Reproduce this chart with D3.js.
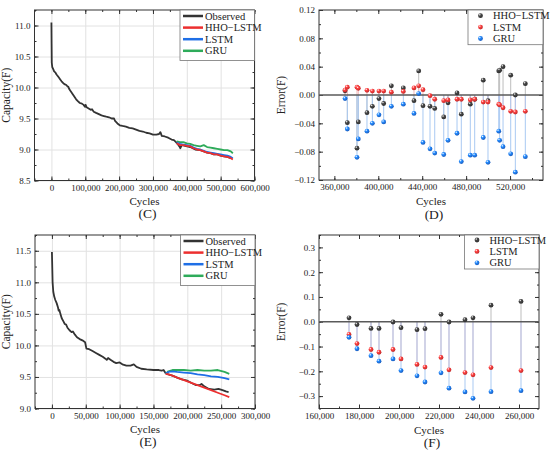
<!DOCTYPE html>
<html>
<head>
<meta charset="utf-8">
<script src="https://cdn.jsdelivr.net/npm/d3@7"></script>
<style>
  body { margin: 0; background: #fff; }
  svg { display: block; }
  text { font-family: "Liberation Serif", "Times New Roman", serif; fill: #222; }
</style>
</head>
<body>
<svg id="chart" width="550" height="453"></svg>
<script>
// ---- panel C: capacity curve ----
const obsC_cycles = [0, 500, 1000, 2500, 5000, 8000, 12000, 15000, 18000, 22000, 26000, 30000, 35000, 40000, 44000, 47000, 50000, 53000, 58000, 63000, 68000, 73000, 78000, 84000, 90000, 95000, 99000, 101000, 104000, 110000, 116000, 120000, 125000, 132000, 140000, 148000, 155000, 162000, 170000, 178000, 185000, 188000, 195000, 202000, 210000, 220000, 230000, 240000, 250000, 260000, 270000, 280000, 290000, 300000, 310000, 318000, 322000, 326000, 335000, 345000, 355000, 362000, 368000, 374000, 378000, 381000, 385000, 395000, 410000, 425000, 440000, 450000, 460000, 470000, 480000, 490000, 500000, 510000, 520000, 530000];
const obsC_cap = [11.05, 10.70, 10.40, 10.33, 10.30, 10.26, 10.24, 10.21, 10.19, 10.16, 10.13, 10.10, 10.07, 10.05, 10.04, 10.02, 10.01, 9.97, 9.93, 9.89, 9.85, 9.81, 9.78, 9.75, 9.74, 9.72, 9.69, 9.72, 9.68, 9.66, 9.64, 9.65, 9.61, 9.59, 9.57, 9.55, 9.54, 9.53, 9.52, 9.50, 9.50, 9.46, 9.42, 9.39, 9.38, 9.37, 9.35, 9.34, 9.32, 9.30, 9.29, 9.27, 9.26, 9.24, 9.24, 9.25, 9.28, 9.22, 9.21, 9.19, 9.16, 9.15, 9.12, 9.08, 9.05, 9.02, 9.07, 9.06, 9.04, 9.00, 8.99, 8.97, 8.95, 8.94, 8.92, 8.92, 8.90, 8.89, 8.88, 8.86];
const predC_cycles = [370000, 380000, 390000, 400000, 410000, 420000, 430000, 440000, 450000, 460000, 470000, 480000, 490000, 500000, 510000, 520000, 530000, 536000];
const predC_hho  = [9.10, 9.07, 9.07, 9.06, 9.05, 9.02, 9.00, 8.99, 8.97, 8.95, 8.94, 8.92, 8.92, 8.90, 8.89, 8.88, 8.86, 8.84];
const predC_lstm = [9.11, 9.09, 9.08, 9.07, 9.06, 9.03, 9.01, 9.00, 8.98, 8.96, 8.95, 8.94, 8.93, 8.92, 8.91, 8.90, 8.88, 8.86];
const predC_gru  = [9.13, 9.12, 9.12, 9.10, 9.09, 9.07, 9.06, 9.05, 9.07, 9.04, 9.03, 9.02, 9.01, 9.00, 8.99, 8.99, 8.97, 8.94];

// ---- panel D: prediction errors ----
const errD_cycles = [369700, 371800, 380600, 381800, 389700, 394600, 400600, 404900, 411900, 422800, 432500, 436800, 440700, 447100, 451400, 459600, 463500, 471700, 475600, 483800, 487800, 495600, 499900, 509700, 510500, 513600, 520600, 524800, 533900];
const errD_hho  = [0.006, -0.039, -0.075, -0.038, -0.025, -0.016, -0.005, -0.012, 0.013, 0.010, -0.008, 0.034, -0.015, -0.016, -0.019, -0.031, -0.011, 0.003, -0.027, -0.013, -0.006, 0.021, -0.008, 0.034, 0.035, 0.040, 0.028, 0.000, 0.016];
const errD_lstm = [0.007, 0.011, 0.011, 0.0095, 0.0066, 0.0056, 0.0056, 0.0056, 0.004, 0.005, 0.010, 0.013, 0.0075, -0.001, -0.006, -0.008, -0.007, -0.006, -0.006, -0.007, -0.006, -0.010, -0.010, -0.013, -0.014, -0.018, -0.023, -0.024, -0.023];
const errD_gru  = [-0.005, -0.048, -0.088, -0.062, -0.051, -0.040, -0.028, -0.038, -0.016, -0.013, -0.026, 0.002, -0.067, -0.076, -0.082, -0.084, -0.064, -0.054, -0.094, -0.085, -0.085, -0.060, -0.095, -0.051, -0.064, -0.073, -0.083, -0.109, -0.087];

// ---- panel E: capacity curve ----
const obsE_cycles = [0, 1000, 2000, 3500, 5000, 7000, 9000, 10000, 11000, 12500, 14500, 17000, 19000, 21000, 23000, 26000, 29000, 31000, 34000, 37000, 41000, 45000, 49000, 51000, 55000, 60000, 65000, 70000, 75000, 79000, 81000, 83000, 87000, 91000, 95000, 100000, 104000, 110000, 116000, 121000, 125000, 132000, 140000, 150000, 158000, 162000, 165000, 168000, 172000, 178000, 185000, 192000, 200000, 207000, 213000, 218000, 221000, 225000, 232000, 240000, 246000, 252000, 257000, 261000];
const obsE_cap = [11.48, 11.00, 10.85, 10.77, 10.72, 10.67, 10.60, 10.55, 10.56, 10.50, 10.43, 10.38, 10.34, 10.33, 10.28, 10.24, 10.21, 10.22, 10.17, 10.13, 10.10, 10.08, 10.05, 9.95, 9.94, 9.91, 9.88, 9.85, 9.82, 9.79, 9.77, 9.80, 9.77, 9.74, 9.72, 9.73, 9.70, 9.68, 9.68, 9.70, 9.66, 9.63, 9.62, 9.61, 9.61, 9.60, 9.61, 9.56, 9.54, 9.52, 9.49, 9.46, 9.44, 9.40, 9.37, 9.37, 9.39, 9.35, 9.31, 9.30, 9.31, 9.29, 9.27, 9.26];
const predE_cycles = [168000, 172000, 178000, 185000, 195000, 205000, 215000, 225000, 235000, 245000, 255000, 262000];
const predE_hho  = [9.55, 9.54, 9.52, 9.49, 9.45, 9.41, 9.37, 9.33, 9.29, 9.25, 9.21, 9.18];
const predE_lstm = [9.55, 9.58, 9.59, 9.58, 9.57, 9.56, 9.54, 9.53, 9.51, 9.50, 9.48, 9.46];
const predE_gru  = [9.55, 9.59, 9.61, 9.61, 9.61, 9.60, 9.61, 9.60, 9.60, 9.61, 9.58, 9.55];

// ---- panel F: prediction errors ----
const errF_cycles = [175000, 179000, 186000, 190000, 197000, 201000, 209000, 213000, 221000, 225000, 233000, 237000, 246000, 261000];
const errF_hho  = [0.016, -0.011, -0.027, -0.027, -0.001, -0.024, -0.032, -0.028, 0.030, -0.001, 0.008, 0.016, 0.067, 0.082];
const errF_lstm = [-0.051, -0.088, -0.112, -0.123, -0.112, -0.150, -0.172, -0.183, -0.144, -0.194, -0.205, -0.214, -0.185, -0.197];
const errF_gru  = [-0.063, -0.109, -0.137, -0.159, -0.150, -0.197, -0.218, -0.243, -0.206, -0.268, -0.283, -0.309, -0.282, -0.278];

const lineNames = ['Observed', 'HHO\u2212LSTM', 'LSTM', 'GRU'];
const lineColors = ['#333333', '#ec2f2f', '#1f6fe6', '#2eab5a'];
const errNames = ['HHO\u2212LSTM', 'LSTM', 'GRU'];
const errColors = ['#3a3a3a', '#f03535', '#1f72ec'];
const dropColors = ['#bdbdbd', '#f3b9b9', '#a9c9f2'];

const svg = d3.select('#chart');

// sphere look for the error markers
const defs = svg.append('defs');
errColors.forEach((c, i) => {
  const g = defs.append('radialGradient')
    .attr('id', `sphere${i}`)
    .attr('cx', '35%').attr('cy', '30%').attr('r', '70%');
  g.append('stop').attr('offset', '0%').attr('stop-color', '#ffffff');
  g.append('stop').attr('offset', '35%').attr('stop-color', d3.color(c).brighter(0.6));
  g.append('stop').attr('offset', '100%').attr('stop-color', d3.color(c).darker(0.6));
});

// Origin-like frame: inward ticks on all four sides
function drawAxes(g, x, y, o) {
  const [x0, x1] = x.range();
  const [y0, y1] = y.range(); // y0 bottom, y1 top

  if (o.grid) {
    g.append('g')
      .attr('transform', `translate(0,${y0})`)
      .call(d3.axisBottom(x).tickValues(o.xTicks).tickSize(-(y0 - y1)).tickFormat(''))
      .call(a => a.select('.domain').remove())
      .call(a => a.selectAll('line').attr('stroke', '#e2e2e2'));
    g.append('g')
      .attr('transform', `translate(${x0},0)`)
      .call(d3.axisLeft(y).tickValues(o.yTicks).tickSize(-(x1 - x0)).tickFormat(''))
      .call(a => a.select('.domain').remove())
      .call(a => a.selectAll('line').attr('stroke', '#e2e2e2'));
  }

  const axes = [
    [d3.axisBottom, `translate(0,${y0})`, x, o.xTicks, o.xMinor, o.xFmt],
    [d3.axisTop, `translate(0,${y1})`, x, o.xTicks, o.xMinor, null],
    [d3.axisLeft, `translate(${x0},0)`, y, o.yTicks, o.yMinor, o.yFmt],
    [d3.axisRight, `translate(${x1},0)`, y, o.yTicks, o.yMinor, null],
  ];
  axes.forEach(([fn, tr, sc, major, minor, fmt]) => {
    g.append('g').attr('transform', tr)
      .call(fn(sc).tickValues(minor).tickSize(-2).tickFormat(''))
      .call(a => a.select('.domain').remove())
      .call(a => a.selectAll('line').attr('stroke', '#333'));
    const ax = g.append('g').attr('transform', tr)
      .call(fn(sc).tickValues(major).tickSize(-4).tickPadding(fmt ? 4 : 0).tickFormat(fmt || ''))
      .call(a => a.select('.domain').remove())
      .call(a => a.selectAll('line').attr('stroke', '#333'));
    ax.selectAll('text')
      .attr('font-family', '"Liberation Serif", serif')
      .attr('font-size', 9)
      .attr('fill', '#222');
  });

  g.append('rect')
    .attr('x', x0).attr('y', y1)
    .attr('width', x1 - x0).attr('height', y0 - y1)
    .attr('fill', 'none').attr('stroke', '#333').attr('stroke-width', 1);
}

function titles(g, x, y, yTitle, yTitleX, xTitleY, tag) {
  const [x0, x1] = x.range();
  const [y0, y1] = y.range();
  const cy = (y0 + y1) / 2;
  g.append('text')
    .attr('transform', `translate(${yTitleX},${cy}) rotate(-90)`)
    .attr('text-anchor', 'middle')
    .attr('font-size', 11.5)
    .text(yTitle);
  const cx = (x0 + x1) / 2;
  g.append('text')
    .attr('x', cx).attr('y', xTitleY)
    .attr('text-anchor', 'middle')
    .attr('font-size', 11)
    .text('Cycles');
  g.append('text')
    .attr('x', cx + 3).attr('y', xTitleY + 13.5)
    .attr('text-anchor', 'middle')
    .attr('font-size', 13.5)
    .text(tag);
}

function linePanel(o) {
  const g = svg.append('g');
  const x = d3.scaleLinear().domain(o.xDomain).range([o.left, o.right]);
  const y = d3.scaleLinear().domain(o.yDomain).range([o.bottom, o.top]);

  drawAxes(g, x, y, {
    grid: true,
    xTicks: d3.range(o.xDomain[0] < 0 ? 0 : o.xDomain[0], o.xDomain[1] + 1, o.xStep),
    xMinor: d3.range(o.xDomain[0], o.xDomain[1] + 1, o.xStep / 2),
    yTicks: d3.range(o.yDomain[0], o.yDomain[1] + 1e-9, 0.5),
    yMinor: d3.range(o.yDomain[0], o.yDomain[1] + 1e-9, 0.25),
    xFmt: d3.format(','),
    yFmt: d3.format('.1f'),
  });

  const line = d3.line().x(d => x(d[0])).y(d => y(d[1]));
  const series = [
    d3.zip(o.obsX, o.obsY),
    d3.zip(o.predX, o.hho),
    d3.zip(o.predX, o.lstm),
    d3.zip(o.predX, o.gru),
  ];
  // observed first, then GRU, LSTM, HHO-LSTM on top
  [0, 3, 2, 1].forEach(i => {
    g.append('path')
      .datum(series[i])
      .attr('d', line)
      .attr('fill', 'none')
      .attr('stroke', lineColors[i])
      .attr('stroke-width', 1.8)
      .attr('stroke-linejoin', 'round');
  });

  // legend
  const lx = o.legend[0], ly = o.legend[1];
  g.append('rect')
    .attr('x', lx).attr('y', o.top)
    .attr('width', o.right - lx).attr('height', ly + 50.5 - o.top - 6)
    .attr('fill', '#fff').attr('stroke', '#777').attr('stroke-width', 0.8);
  lineNames.forEach((name, i) => {
    const ry = ly + i * 11.6;
    g.append('line')
      .attr('x1', lx + 3).attr('x2', lx + 23)
      .attr('y1', ry).attr('y2', ry)
      .attr('stroke', lineColors[i]).attr('stroke-width', 2.5);
    g.append('text')
      .attr('x', lx + 25).attr('y', ry + 3.5)
      .attr('font-size', 10.5)
      .text(name);
  });

  titles(g, x, y, 'Capacity(F)', 10, o.bottom + 24, o.tag);
}

function errorPanel(o) {
  const g = svg.append('g');
  const x = d3.scaleLinear().domain(o.xDomain).range([o.left, o.right]);
  const y = d3.scaleLinear().domain(o.yDomain).range([o.bottom, o.top]);

  drawAxes(g, x, y, {
    grid: false,
    xTicks: o.xTicks,
    xMinor: d3.range(o.xDomain[0] - (o.xDomain[0] % (o.xStep / 2)), o.xDomain[1], o.xStep / 2).filter(v => v >= o.xDomain[0]),
    yTicks: o.yTicks,
    yMinor: o.yMinor,
    xFmt: d3.format(','),
    yFmt: o.yFmt,
  });

  const sets = [o.hho, o.lstm, o.gru];

  // drop lines to zero
  sets.forEach((vals, s) => {
    g.append('g').selectAll('line')
      .data(d3.zip(o.cycles, vals))
      .join('line')
      .attr('x1', d => x(d[0])).attr('x2', d => x(d[0]))
      .attr('y1', y(0)).attr('y2', d => y(d[1]))
      .attr('stroke', dropColors[s]).attr('stroke-width', 1);
  });

  // zero line
  g.append('line')
    .attr('x1', x.range()[0]).attr('x2', x.range()[1])
    .attr('y1', y(0)).attr('y2', y(0))
    .attr('stroke', '#5a5a5a').attr('stroke-width', 1.6);

  sets.forEach((vals, s) => {
    g.append('g').selectAll('circle')
      .data(d3.zip(o.cycles, vals))
      .join('circle')
      .attr('cx', d => x(d[0])).attr('cy', d => y(d[1]))
      .attr('r', 2.4)
      .attr('fill', `url(#sphere${s})`);
  });

  // legend
  const lx = o.legend[0], ly = o.legend[1];
  g.append('rect')
    .attr('x', lx).attr('y', o.top)
    .attr('width', o.right - lx).attr('height', ly + 29 - o.top)
    .attr('fill', '#fff').attr('stroke', '#777').attr('stroke-width', 0.8);
  errNames.forEach((name, i) => {
    const ry = ly + i * 11.4;
    g.append('circle')
      .attr('cx', lx + 12.5).attr('cy', ry)
      .attr('r', 2.4)
      .attr('fill', `url(#sphere${i})`);
    g.append('text')
      .attr('x', lx + 25).attr('y', ry + 3.5)
      .attr('font-size', 10.5)
      .text(name);
  });

  titles(g, x, y, 'Error(F)', 285, o.bottom + 25, o.tag);
}

linePanel({
  left: 34.5, right: 254.5, top: 10, bottom: 180.5,
  xDomain: [-50000, 600000], xStep: 100000,
  yDomain: [8.5, 11.25],
  obsX: obsC_cycles, obsY: obsC_cap,
  predX: predC_cycles, hho: predC_hho, lstm: predC_lstm, gru: predC_gru,
  legend: [180, 16], tag: '(C)',
});

errorPanel({
  left: 319, right: 543, top: 10, bottom: 180,
  xDomain: [346000, 550000], xStep: 40000,
  xTicks: d3.range(360000, 520001, 40000),
  yDomain: [-0.12, 0.12],
  yTicks: d3.range(-0.12, 0.1201, 0.04),
  yMinor: d3.range(-0.12, 0.1201, 0.02),
  yFmt: d3.format('.2f'),
  cycles: errD_cycles, hho: errD_hho, lstm: errD_lstm, gru: errD_gru,
  legend: [468, 15.7], tag: '(D)',
});

linePanel({
  left: 35, right: 255, top: 235, bottom: 408.5,
  xDomain: [-25000, 300000], xStep: 50000,
  yDomain: [9.0, 11.75],
  obsX: obsE_cycles, obsY: obsE_cap,
  predX: predE_cycles, hho: predE_hho, lstm: predE_lstm, gru: predE_gru,
  legend: [180.5, 241], tag: '(E)',
});

errorPanel({
  left: 319, right: 539, top: 235, bottom: 408.5,
  xDomain: [160000, 270000], xStep: 20000,
  xTicks: d3.range(160000, 260001, 20000),
  yDomain: [-0.35, 0.35],
  yTicks: d3.range(-0.3, 0.3001, 0.1),
  yMinor: d3.range(-0.35, 0.3501, 0.05),
  yFmt: d3.format('.1f'),
  cycles: errF_cycles, hho: errF_hho, lstm: errF_lstm, gru: errF_gru,
  legend: [464.5, 240], tag: '(F)',
});
</script>
</body>
</html>
